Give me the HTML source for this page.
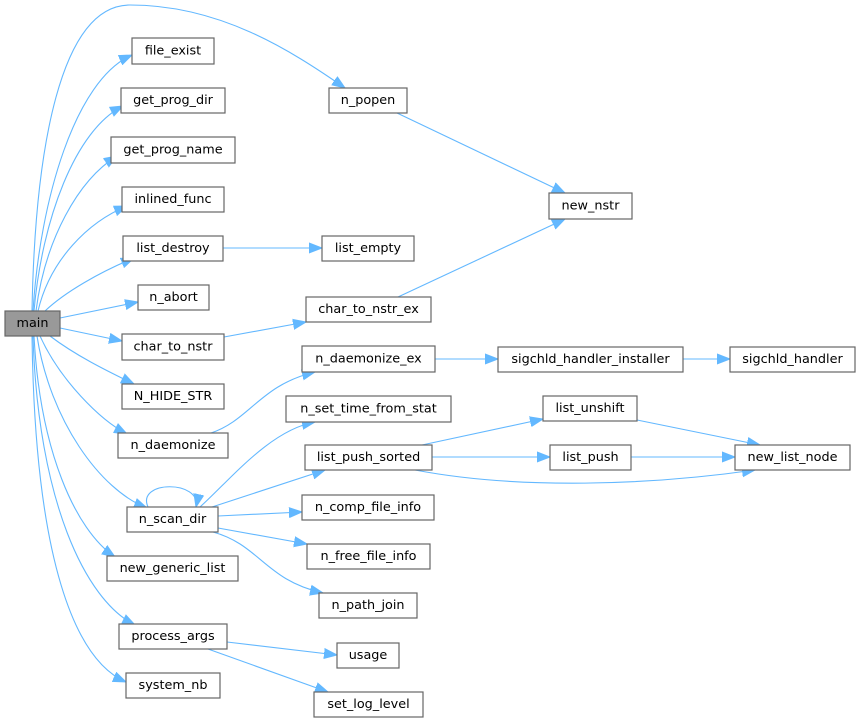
<!DOCTYPE html>
<html><head><meta charset="utf-8"><style>
html,body{margin:0;padding:0;background:#fff;}
svg{display:block;}
text{font-family:"DejaVu Sans","Liberation Sans",sans-serif;font-size:12.8px;fill:#000;text-anchor:middle;dominant-baseline:central;}
.b{fill:#fff;stroke:#666;stroke-width:1.2;}
.e{fill:none;stroke:#63b8ff;stroke-width:1.1;}
</style></head><body>
<svg width="860" height="723" viewBox="0 0 860 723" xmlns="http://www.w3.org/2000/svg">
<defs><marker id="a" markerUnits="userSpaceOnUse" markerWidth="14" markerHeight="12" refX="13" refY="6" orient="auto"><path d="M0,1 L13,6 L0,11 z" fill="#63b8ff" stroke="#63b8ff"/></marker></defs>
<g marker-end="url(#a)">
<path class="e" d="M32,311 C35,150 60,5 130,5 C220,5 290,50 345,88"/>
<path class="e" d="M33,311 C40,200 75,80 132,55"/>
<path class="e" d="M34,311 C42,220 75,130 123,106"/>
<path class="e" d="M36,311 C45,240 78,180 117,156"/>
<path class="e" d="M38,311 C50,260 88,222 127,206"/>
<path class="e" d="M45,311 C65,292 100,272 134,258"/>
<path class="e" d="M60,318 L138,302"/>
<path class="e" d="M60,328 L122,341"/>
<path class="e" d="M50,336 C75,355 105,370 134,384"/>
<path class="e" d="M40,336 C60,380 100,420 127,434"/>
<path class="e" d="M37,336 C50,420 100,490 147,508"/>
<path class="e" d="M34,336 C40,450 75,530 115,557"/>
<path class="e" d="M33,336 C38,500 85,600 135,625"/>
<path class="e" d="M32,336 C35,560 75,660 126,682"/>
<path class="e" d="M397,113 L565,193"/>
<path class="e" d="M398,297 L565,219"/>
<path class="e" d="M223,248 L322,248"/>
<path class="e" d="M224,337 L306,322"/>
<path class="e" d="M211,433 C250,420 260,385 315,372"/>
<path class="e" d="M435,359 L498,359"/>
<path class="e" d="M683,359 L730,359"/>
<path class="e" d="M148,507 C136,480 202,480 196,507"/>
<path class="e" d="M200,507 C230,480 270,430 315,422"/>
<path class="e" d="M212,507 L325,470"/>
<path class="e" d="M218,516 L302,512"/>
<path class="e" d="M218,528 L307,544"/>
<path class="e" d="M213,532 C260,545 265,580 323,593"/>
<path class="e" d="M422,445 L543,419"/>
<path class="e" d="M432,457 L550,457"/>
<path class="e" d="M415,470 C520,490 650,485 755,470"/>
<path class="e" d="M637,420 L760,445"/>
<path class="e" d="M631,457 L735,457"/>
<path class="e" d="M227,642 L337,655"/>
<path class="e" d="M208,649 L328,692"/>
</g>
<rect x="5" y="311" width="55" height="25" fill="#999" stroke="#666" stroke-width="1.2"/><text x="32.5" y="323.5">main</text>
<rect class="b" x="132" y="38" width="82" height="26"/><text x="173" y="51">file_exist</text>
<rect class="b" x="121" y="88" width="104" height="25"/><text x="173" y="100.5">get_prog_dir</text>
<rect class="b" x="111" y="137" width="124" height="26"/><text x="173" y="150">get_prog_name</text>
<rect class="b" x="122" y="187" width="102" height="25"/><text x="173" y="199.5">inlined_func</text>
<rect class="b" x="123" y="236" width="100" height="25"/><text x="173" y="248.5">list_destroy</text>
<rect class="b" x="138" y="285" width="71" height="25"/><text x="173.5" y="297.5">n_abort</text>
<rect class="b" x="122" y="334" width="102" height="26"/><text x="173" y="347">char_to_nstr</text>
<rect class="b" x="122" y="384" width="102" height="25"/><text x="173" y="396.5">N_HIDE_STR</text>
<rect class="b" x="118" y="433" width="110" height="25"/><text x="173" y="445.5">n_daemonize</text>
<rect class="b" x="127" y="507" width="91" height="25"/><text x="172.5" y="519.5">n_scan_dir</text>
<rect class="b" x="107" y="556" width="131" height="25"/><text x="172.5" y="568.5">new_generic_list</text>
<rect class="b" x="119" y="624" width="108" height="25"/><text x="173" y="636.5">process_args</text>
<rect class="b" x="126" y="673" width="94" height="25"/><text x="173" y="685.5">system_nb</text>
<rect class="b" x="329" y="88" width="78" height="25"/><text x="368" y="100.5">n_popen</text>
<rect class="b" x="549" y="193" width="83" height="26"/><text x="590.5" y="206">new_nstr</text>
<rect class="b" x="322" y="236" width="92" height="25"/><text x="368" y="248.5">list_empty</text>
<rect class="b" x="306" y="297" width="125" height="25"/><text x="368.5" y="309.5">char_to_nstr_ex</text>
<rect class="b" x="302" y="346" width="133" height="26"/><text x="368.5" y="359">n_daemonize_ex</text>
<rect class="b" x="498" y="347" width="185" height="25"/><text x="590.5" y="359.5">sigchld_handler_installer</text>
<rect class="b" x="730" y="347" width="125" height="25"/><text x="792.5" y="359.5">sigchld_handler</text>
<rect class="b" x="286" y="396" width="165" height="26"/><text x="368.5" y="409">n_set_time_from_stat</text>
<rect class="b" x="305" y="445" width="127" height="25"/><text x="368.5" y="457.5">list_push_sorted</text>
<rect class="b" x="543" y="396" width="94" height="25"/><text x="590" y="408.5">list_unshift</text>
<rect class="b" x="550" y="445" width="81" height="25"/><text x="590.5" y="457.5">list_push</text>
<rect class="b" x="735" y="445" width="115" height="25"/><text x="792.5" y="457.5">new_list_node</text>
<rect class="b" x="302" y="495" width="132" height="25"/><text x="368" y="507.5">n_comp_file_info</text>
<rect class="b" x="307" y="544" width="123" height="25"/><text x="368.5" y="556.5">n_free_file_info</text>
<rect class="b" x="319" y="593" width="98" height="25"/><text x="368" y="605.5">n_path_join</text>
<rect class="b" x="337" y="643" width="62" height="25"/><text x="368" y="655.5">usage</text>
<rect class="b" x="314" y="692" width="109" height="25"/><text x="368.5" y="704.5">set_log_level</text>
</svg>
</body></html>
